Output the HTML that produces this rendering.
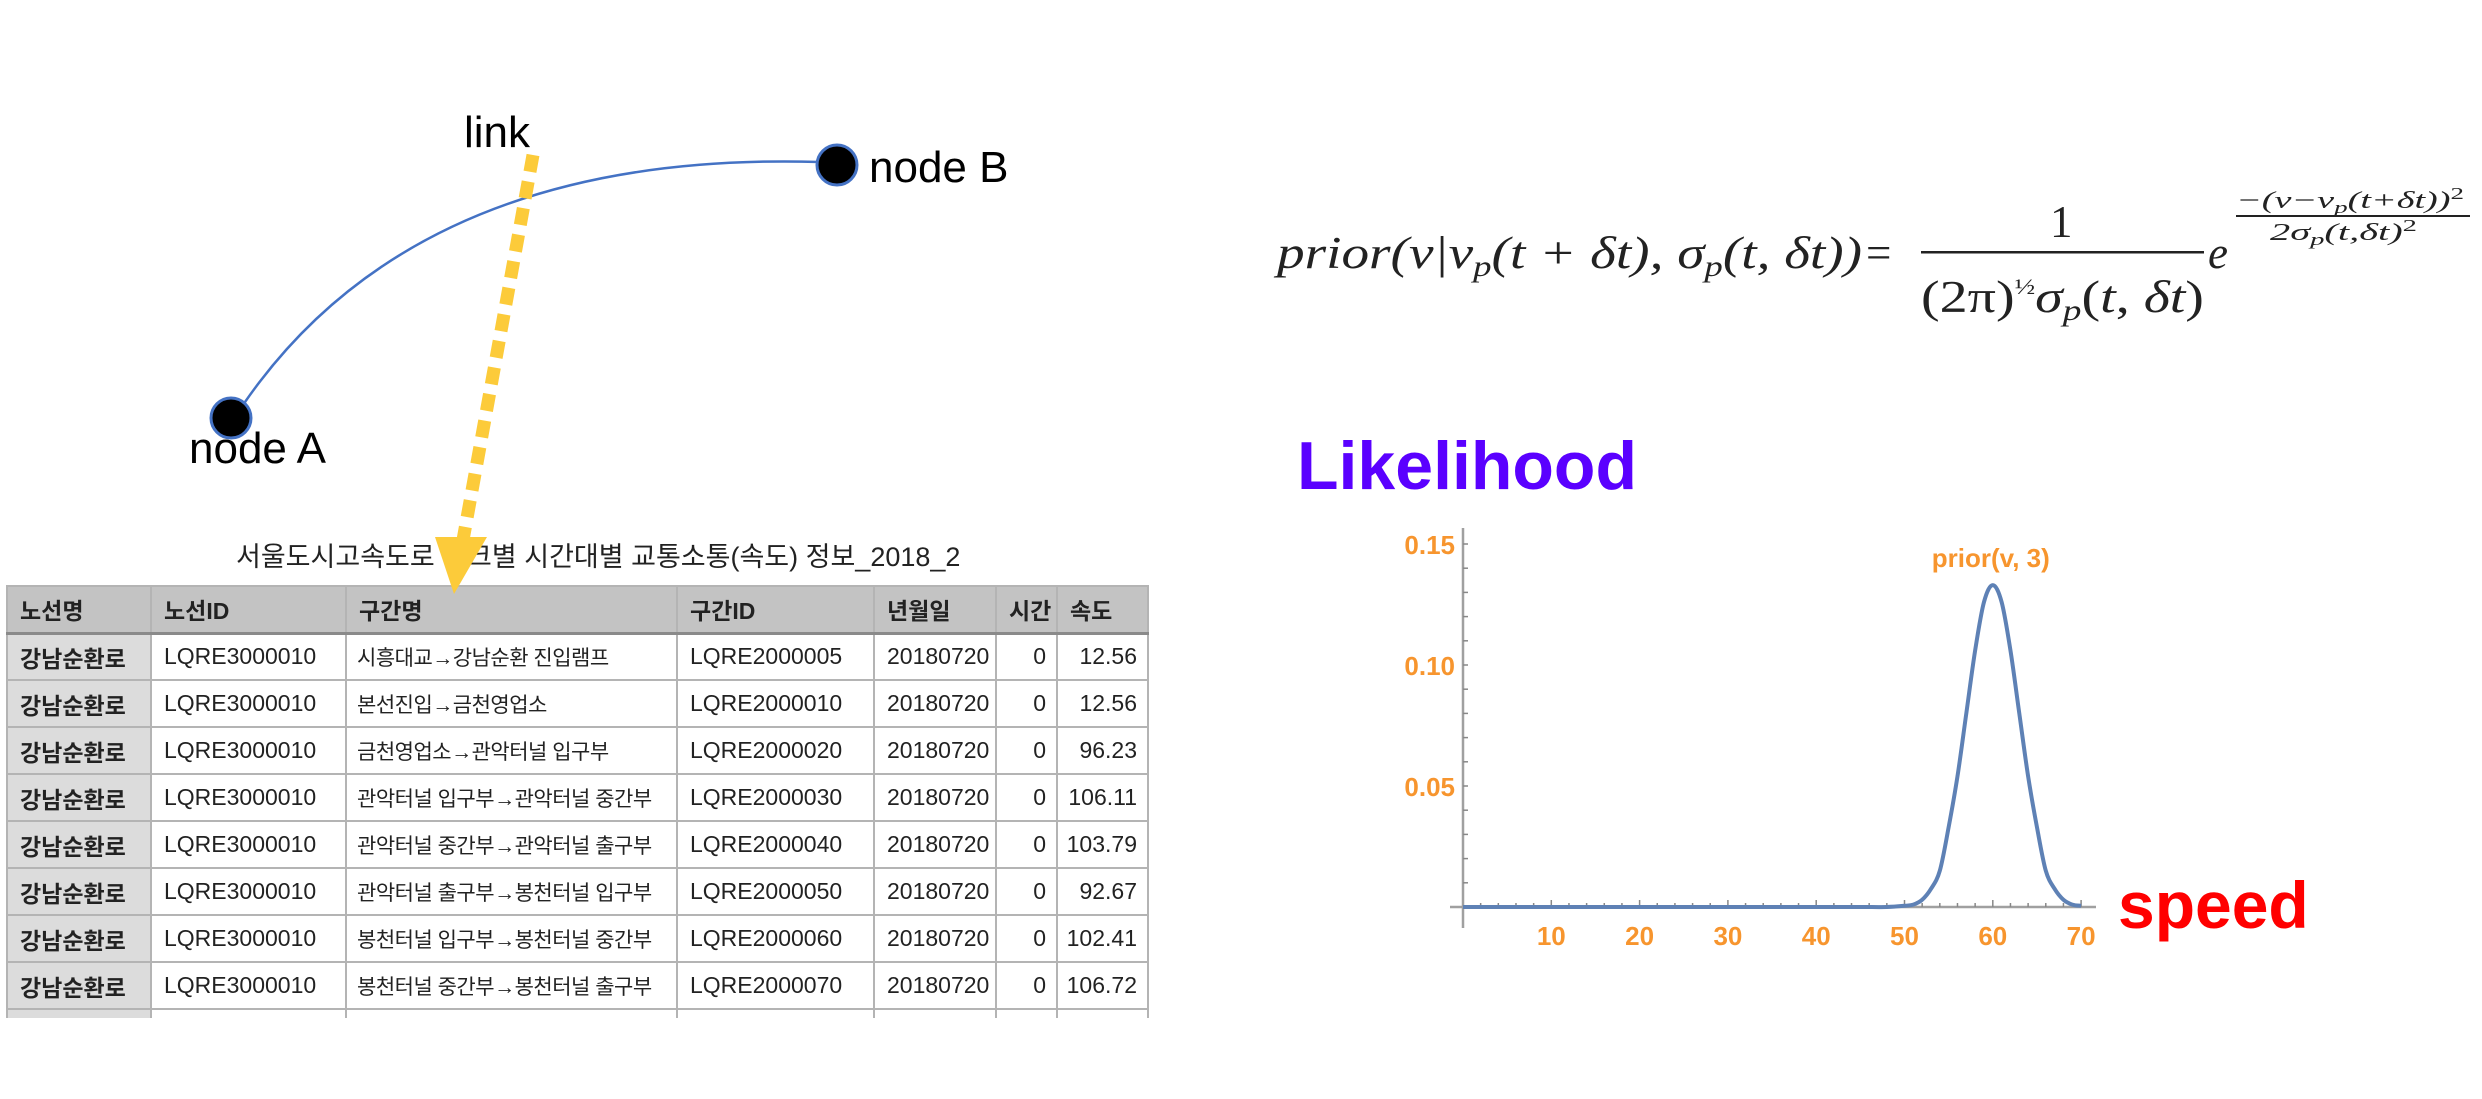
<!DOCTYPE html>
<html><head><meta charset="utf-8">
<style>
html,body{margin:0;padding:0;background:#fff;}
body{width:2482px;height:1099px;position:relative;overflow:hidden;font-family:"Liberation Sans","Noto Sans CJK KR",sans-serif;}
#tblwrap{position:absolute;left:5px;top:584px;width:1145px;height:434px;overflow:hidden;}
#tbl{border-collapse:collapse;font-size:23px;color:#222;table-layout:fixed;width:1141px;margin:1px 0 0 1px;}
#tbl tr{height:47px;}
#tbl td,#tbl th{border:2px solid #b4b4b4;padding:0 0 0 12px;white-space:nowrap;overflow:hidden;}
#tbl td.k{font-size:21px;letter-spacing:-0.5px;padding-left:10px;}
#tbl th{background:#c3c3c3;text-align:left;font-weight:bold;border-bottom:3px solid #8a8a8a;}
#tbl td.c1{background:#dcdcdc;font-weight:bold;}
#tbl td.r{text-align:right;padding:0 10px 0 0;}
#title{position:absolute;left:236px;top:535px;font-size:27px;color:#222;white-space:nowrap;}
</style></head>
<body>
<div id="title">서울도시고속도로 링크별 시간대별 교통소통(속도) 정보_2018_2</div>
<div id="tblwrap">
<table id="tbl">
<colgroup><col style="width:144px"><col style="width:195px"><col style="width:331px"><col style="width:197px"><col style="width:122px"><col style="width:61px"><col style="width:91px"></colgroup>
<tr><th>노선명</th><th>노선ID</th><th>구간명</th><th>구간ID</th><th>년월일</th><th>시간</th><th>속도</th></tr>
<tr><td class="c1">강남순환로</td><td>LQRE3000010</td><td class="k">시흥대교→강남순환 진입램프</td><td>LQRE2000005</td><td>20180720</td><td class="r">0</td><td class="r">12.56</td></tr>
<tr><td class="c1">강남순환로</td><td>LQRE3000010</td><td class="k">본선진입→금천영업소</td><td>LQRE2000010</td><td>20180720</td><td class="r">0</td><td class="r">12.56</td></tr>
<tr><td class="c1">강남순환로</td><td>LQRE3000010</td><td class="k">금천영업소→관악터널 입구부</td><td>LQRE2000020</td><td>20180720</td><td class="r">0</td><td class="r">96.23</td></tr>
<tr><td class="c1">강남순환로</td><td>LQRE3000010</td><td class="k">관악터널 입구부→관악터널 중간부</td><td>LQRE2000030</td><td>20180720</td><td class="r">0</td><td class="r">106.11</td></tr>
<tr><td class="c1">강남순환로</td><td>LQRE3000010</td><td class="k">관악터널 중간부→관악터널 출구부</td><td>LQRE2000040</td><td>20180720</td><td class="r">0</td><td class="r">103.79</td></tr>
<tr><td class="c1">강남순환로</td><td>LQRE3000010</td><td class="k">관악터널 출구부→봉천터널 입구부</td><td>LQRE2000050</td><td>20180720</td><td class="r">0</td><td class="r">92.67</td></tr>
<tr><td class="c1">강남순환로</td><td>LQRE3000010</td><td class="k">봉천터널 입구부→봉천터널 중간부</td><td>LQRE2000060</td><td>20180720</td><td class="r">0</td><td class="r">102.41</td></tr>
<tr><td class="c1">강남순환로</td><td>LQRE3000010</td><td class="k">봉천터널 중간부→봉천터널 출구부</td><td>LQRE2000070</td><td>20180720</td><td class="r">0</td><td class="r">106.72</td></tr>
<tr><td class="c1"></td><td></td><td></td><td></td><td></td><td></td><td></td></tr>
</table>
</div>

<svg id="main" width="2482" height="1099" style="position:absolute;left:0;top:0;" xmlns="http://www.w3.org/2000/svg">
<path d="M 245 402 Q 420 150 820 162" fill="none" stroke="#4472c4" stroke-width="2.5"/>
<circle cx="231" cy="418" r="20" fill="#000" stroke="#4472c4" stroke-width="3"/>
<circle cx="837" cy="165" r="20" fill="#000" stroke="#4472c4" stroke-width="3"/>
<text x="189" y="463" font-size="44" font-family="Liberation Sans" fill="#000">node A</text>
<text x="869" y="182" font-size="44" font-family="Liberation Sans" fill="#000">node B</text>
<text x="464" y="147" font-size="44" font-family="Liberation Sans" fill="#000">link</text>
<line x1="533" y1="155" x2="463" y2="540" stroke="#fccb3a" stroke-width="13" stroke-dasharray="17 10"/>
<polygon points="435,537 487,537 454,594" fill="#fccb3a"/>

<g font-family="Liberation Serif" fill="#222">
<text x="1277" y="268" font-size="45" font-style="italic" textLength="585" lengthAdjust="spacingAndGlyphs">prior(v|v<tspan font-size="30" dy="8">p</tspan><tspan dy="-8">(t + δt), σ</tspan><tspan font-size="30" dy="8">p</tspan><tspan dy="-8">(t, δt))</tspan></text>
<text x="1866" y="268" font-size="45">=</text>
<text x="2050" y="237" font-size="45">1</text>
<rect x="1921" y="251" width="283" height="2.5" fill="#222"/>
<text x="1921" y="312" font-size="45" textLength="283" lengthAdjust="spacingAndGlyphs">(2π)<tspan font-size="22" dy="-18">½</tspan><tspan font-style="italic" dy="18">σ</tspan><tspan font-size="30" font-style="italic" dy="8">p</tspan><tspan dy="-8">(</tspan><tspan font-style="italic">t</tspan>, <tspan font-style="italic">δt</tspan>)</text>
<text x="2208" y="268" font-size="45" font-style="italic">e</text>
<text x="2236" y="208" font-size="24" font-style="italic" textLength="228" lengthAdjust="spacingAndGlyphs">−(v−v<tspan font-size="17" dy="5">p</tspan><tspan dy="-5">(t+δt))</tspan><tspan font-size="17" dy="-9" font-style="normal">2</tspan></text>
<rect x="2236" y="215" width="234" height="2" fill="#222"/>
<text x="2270" y="240" font-size="24" font-style="italic" textLength="147" lengthAdjust="spacingAndGlyphs">2σ<tspan font-size="17" dy="5">p</tspan><tspan dy="-5">(t,δt)</tspan><tspan font-size="17" dy="-9" font-style="normal">2</tspan></text>
</g>

<text x="1297" y="489" font-size="68" font-weight="bold" font-family="Liberation Sans" fill="#5a00ff">Likelihood</text>
<text x="2118" y="928" font-size="66" font-weight="bold" font-family="Liberation Sans" fill="#ff0000">speed</text>
<g id="chart"></g>
</svg>

<script>
const xTicks = [10, 20, 30, 40, 50, 60, 70];
const yTicks = [0.05, 0.10, 0.15];
const yTickLabels = ["0.05", "0.10", "0.15"];
const speedValues = [0, 5, 10, 15, 20, 25, 30, 35, 40, 45, 48, 50, 51, 52, 53, 54, 55, 56, 57, 58, 59, 60, 61, 62, 63, 64, 65, 66, 67, 68, 69, 70];
const likelihoodValues = [0, 0, 0, 0, 0, 0, 0, 0, 0, 0, 0, 0.0005, 0.001, 0.003, 0.0075, 0.015, 0.033, 0.054, 0.08, 0.106, 0.126, 0.133, 0.126, 0.106, 0.08, 0.054, 0.033, 0.015, 0.0075, 0.003, 0.001, 0.0005];
const seriesLabel = "prior(v, 3)";

const NS = "http://www.w3.org/2000/svg";
const g = document.getElementById("chart");
const X0 = 1463, PX_PER_UNIT = 8.83, Y0 = 907, PX_PER_Y = 121 / 0.05;
function sx(v){ return X0 + v * PX_PER_UNIT; }
function sy(v){ return Y0 - v * PX_PER_Y; }
function mk(tag, attrs){ const e = document.createElementNS(NS, tag); for (const k in attrs) e.setAttribute(k, attrs[k]); g.appendChild(e); return e; }

const yAxis = mk("line", {x1: X0, y1: 528, x2: X0, y2: 928, stroke: "#a0a0a0", "stroke-width": 2.5});


const xAxis = mk("line", {x1: 1450, y1: Y0, x2: 2096, y2: Y0, stroke: "#a0a0a0", "stroke-width": 2.5});



for (let v = 2; v <= 70; v += 2) {
  const major = v % 10 === 0;
  const t = mk("line", {x1: sx(v), y1: Y0, x2: sx(v), y2: Y0 - (major ? 7 : 4), stroke: "#888", "stroke-width": 1.5});
  
  
}
for (let v = 0.01; v <= 0.155; v += 0.01) {
  const t = mk("line", {x1: X0, y1: sy(v), x2: X0 + 5, y2: sy(v), stroke: "#888", "stroke-width": 1.5});
  
  
}
xTicks.forEach(v => {
  const t = mk("text", {x: sx(v), y: Y0 + 38, "text-anchor": "middle", "font-size": 26, "font-weight": "bold", "font-family": "Liberation Sans Narrow, Liberation Sans, sans-serif", fill: "#f7952e"});
  t.textContent = String(v);
  
  
});
yTicks.forEach((v, i) => {
  const t = mk("text", {x: X0 - 8, y: sy(v) + 10, "text-anchor": "end", "font-size": 26, "font-weight": "bold", "font-family": "Liberation Sans Narrow, Liberation Sans, sans-serif", fill: "#f7952e"});
  t.textContent = yTickLabels[i];
  
  
});

const pts = speedValues.map((s, i) => [sx(s), sy(likelihoodValues[i])]);
let d = "M " + pts[0][0] + " " + pts[0][1];
for (let i = 0; i < pts.length - 1; i++) {
  const p0 = pts[Math.max(0, i - 1)], p1 = pts[i], p2 = pts[i + 1], p3 = pts[Math.min(pts.length - 1, i + 2)];
  const c1x = p1[0] + (p2[0] - p0[0]) / 6, c1y = p1[1] + (p2[1] - p0[1]) / 6;
  const c2x = p2[0] - (p3[0] - p1[0]) / 6, c2y = p2[1] - (p3[1] - p1[1]) / 6;
  d += " C " + c1x + " " + c1y + " " + c2x + " " + c2y + " " + p2[0] + " " + p2[1];
}
const curve = mk("path", {d: d, fill: "none", stroke: "#5e81b5", "stroke-width": 4, "stroke-linejoin": "round"});



let peakIdx = 0;
likelihoodValues.forEach((v, i) => { if (v > likelihoodValues[peakIdx]) peakIdx = i; });
const lbl = mk("text", {x: sx(speedValues[peakIdx]) - 2, y: sy(likelihoodValues[peakIdx]) - 18, "text-anchor": "middle", "font-size": 26, "font-weight": "bold", "font-family": "Liberation Sans Narrow, Liberation Sans, sans-serif", fill: "#f7952e"});
lbl.textContent = seriesLabel;


</script>
</body></html>
